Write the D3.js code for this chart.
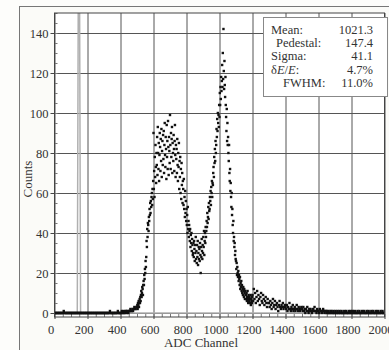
<!DOCTYPE html>
<html lang="en">
<head>
<meta charset="UTF-8">
<title>ADC spectrum</title>
<script src="https://d3js.org/d3.v7.min.js"></script>
<style>
  html, body { margin: 0; padding: 0; background: #fdfdfb; }
  svg { display: block; }
  svg text { font-family: "Liberation Serif", "Times New Roman", serif; }
</style>
</head>
<body>
<svg id="chart" width="389" height="350"></svg>
<script>
// ---- data ----
// baseline left of the peaks, channels 0..496, every 4
var leftStart = 0, leftStep = 4;
var leftCounts = [
  0,0,0,0,0,0,0,0,0,0,0,0,0,0,1,0,0,0,0,0,0,0,0,0,0,
  0,0,0,0,0,0,0,0,0,0,0,0,0,0,0,0,0,0,0,0,0,0,0,0,0,
  0,0,0,0,0,0,0,0,0,0,0,0,0,0,0,0,0,0,0,0,0,0,0,0,0,
  0,0,0,0,0,0,0,0,0,1,0,0,0,0,0,0,0,0,0,0,0,1,0,0,0,
  0,0,1,0,0,1,0,0,1,1,0,1,0,1,1,2,1,1,2,1,2,3,2,2,3
];
// peak region, channels 500..1198, every 2
var mainStart = 500, mainStep = 2;
var mainCounts = [
  3,4,2,5,4,6,3,5,7,5,
  8,6,9,11,8,10,13,12,9,14,
  16,14,19,17,22,20,26,23,28,36,
  33,42,38,45,44,41,48,46,52,49,
  55,50,56,53,58,60,54,62,57,66,
  90,62,71,58,78,68,84,73,65,80,
  74,88,69,93,80,72,85,66,79,90,
  83,71,87,76,92,68,81,86,74,89,
  77,91,70,84,95,79,73,88,82,67,
  94,78,86,72,96,83,69,88,81,75,
  99,84,72,90,78,87,93,70,85,80,
  76,89,82,71,86,94,79,68,84,77,
  82,70,87,74,66,80,73,85,62,76,
  68,78,60,72,57,75,64,70,55,66,
  62,54,67,52,58,48,61,50,56,46,
  52,44,49,40,53,42,46,38,44,41,
  36,42,33,39,35,40,31,37,34,29,
  30,35,28,36,32,26,34,30,38,27,
  31,25,34,28,36,24,30,33,27,32,
  26,35,29,20,33,28,37,31,27,34,
  30,38,33,41,29,36,40,35,43,38,
  41,46,43,50,45,48,53,47,55,51,
  52,58,56,61,54,63,60,66,58,65,
  64,70,73,68,78,75,82,76,86,80,
  84,92,88,97,91,100,95,99,93,104,
  98,110,104,113,107,118,111,116,124,113,
  130,117,142,121,112,126,114,108,118,104,
  98,91,102,86,95,84,88,80,76,84,
  70,66,72,61,65,58,53,60,49,52,
  44,40,46,36,38,33,35,29,31,27,
  26,22,25,19,23,20,18,21,16,19,
  17,14,18,12,15,13,16,11,14,10,
  12,9,13,11,8,12,10,7,11,9,
  9,7,10,6,8,11,7,5,9,8,
  6,8,5,7,9,4,7,6,5,8
];
// tail, channels 1200..2000, every 4
var tailStart = 1200, tailStep = 4;
var tailCounts = [
  9,6,12,7,10,5,8,11,6,9,7,4,8,10,6,5,9,7,4,6,8,5,3,7,5,
  5,3,6,4,2,5,7,3,4,6,2,4,5,3,1,4,6,3,2,4,3,5,2,3,4,
  3,2,4,1,3,2,5,2,1,3,2,4,1,2,3,1,2,4,2,1,3,2,1,2,3,
  2,1,3,1,2,0,2,1,3,1,0,2,1,2,1,0,1,2,1,3,1,1,0,2,1,
  1,0,2,1,1,0,1,2,1,0,1,1,0,1,0,1,0,0,1,0,1,0,0,1,0,
  0,1,0,0,1,0,0,1,0,0,1,0,0,0,1,0,0,1,0,0,0,1,0,0,1,
  0,0,1,0,0,1,0,0,0,1,0,0,1,0,0,0,1,0,0,1,0,0,0,1,0,
  0,1,0,0,0,1,0,0,1,0,0,0,1,0,0,1,0,0,0,1,0,0,1,0,0,
  0
];
// pedestal drawn as a grey line
var pedChannels = [0, 138, 148, 158, 2000];
var pedCounts   = [0, 0, 260, 0, 0];

var xTicks = [0, 200, 400, 600, 800, 1000, 1200, 1400, 1600, 1800, 2000];
var yTicks = [0, 20, 40, 60, 80, 100, 120, 140];

var statLabels = ["Mean:", "Pedestal:", "Sigma:", "\u03b4E/E:", "FWHM:"];
var statValues = ["1021.3", "147.4", "41.1", "4.7%", "11.0%"];

// ---- build point list ----
function series(start, step, arr) {
  return arr.map(function(v, i) { return { ch: start + i * step, n: v }; });
}
var points = series(leftStart, leftStep, leftCounts)
  .concat(series(mainStart, mainStep, mainCounts))
  .concat(series(tailStart, tailStep, tailCounts));

// ---- layout ----
var svg = d3.select("#chart");
var pL = 54.5, pR = 384.5, pT = 13, pB = 317;
var serif = "'Liberation Serif', 'Times New Roman', serif";

var x = d3.scaleLinear().domain([0, 2000]).range([pL, pR]);
var y = d3.scaleLinear().domain([-2, 150]).range([pB, pT]);

// outer frame
svg.append("rect")
  .attr("x", 19.5).attr("y", 6.5)
  .attr("width", 400).attr("height", 400)
  .attr("fill", "#fbfbf8").attr("stroke", "#777").attr("stroke-width", 1);

// plot background
svg.append("rect")
  .attr("x", pL).attr("y", pT)
  .attr("width", pR - pL).attr("height", pB - pT)
  .attr("fill", "#fff");

// grid lines
svg.append("g")
  .attr("transform", "translate(0," + pB + ")")
  .call(d3.axisBottom(x).tickValues(xTicks).tickSize(-(pB - pT)).tickFormat(""))
  .call(function(g) {
    g.select(".domain").remove();
    g.selectAll("line").attr("stroke", "#555").attr("stroke-width", 1);
  });
svg.append("g")
  .attr("transform", "translate(" + pL + ",0)")
  .call(d3.axisLeft(y).tickValues(yTicks).tickSize(-(pR - pL)).tickFormat(""))
  .call(function(g) {
    g.select(".domain").remove();
    g.selectAll("line").attr("stroke", "#555").attr("stroke-width", 1);
  });

// minor ticks (inside)
svg.append("g")
  .attr("transform", "translate(" + pL + ",0)")
  .call(d3.axisRight(y).tickValues(d3.range(0, 151, 5)).tickSize(3).tickFormat(""))
  .call(function(g) {
    g.select(".domain").remove();
    g.selectAll("line").attr("stroke", "#777");
  });
svg.append("g")
  .attr("transform", "translate(0," + pB + ")")
  .call(d3.axisTop(x).tickValues(d3.range(0, 2001, 50)).tickSize(3).tickFormat(""))
  .call(function(g) {
    g.select(".domain").remove();
    g.selectAll("line").attr("stroke", "#777");
  });

// y axis labels + outer ticks
svg.append("g")
  .attr("transform", "translate(" + pL + ",0)")
  .call(d3.axisLeft(y).tickValues(yTicks).tickSize(4).tickPadding(2).tickFormat(d3.format("d")))
  .call(function(g) {
    g.attr("font-family", null);
    g.select(".domain").remove();
    g.selectAll("line").attr("stroke", "#444");
    g.selectAll("text")
      .style("font-family", serif)
      .attr("font-size", 12.5).attr("fill", "#333");
  });

// x axis labels
svg.append("g")
  .attr("transform", "translate(0," + pB + ")")
  .call(d3.axisBottom(x).tickValues(xTicks).tickSize(2).tickPadding(6).tickFormat(d3.format("d")))
  .call(function(g) {
    g.attr("font-family", null);
    g.select(".domain").remove();
    g.selectAll("line").attr("stroke", "#444");
    g.selectAll("text")
      .style("font-family", serif)
      .attr("font-size", 12.5).attr("fill", "#333")
      .attr("dx", -4);
  });

// clip
svg.append("clipPath").attr("id", "plotclip")
  .append("rect").attr("x", pL).attr("y", pT)
  .attr("width", pR - pL).attr("height", pB - pT);

var plot = svg.append("g").attr("clip-path", "url(#plotclip)");

// pedestal line
var ped = pedChannels.map(function(c, i) { return [c, pedCounts[i]]; });
plot.append("path")
  .datum(ped)
  .attr("fill", "none")
  .attr("stroke", "#b0b0b0")
  .attr("stroke-width", 1.5)
  .attr("d", d3.line().x(function(d) { return x(d[0]); }).y(function(d) { return y(d[1]); }));

// points
var ms = 2.4;
plot.selectAll("rect.pt")
  .data(points)
  .enter().append("rect")
  .attr("class", "pt")
  .attr("x", function(d) { return x(d.ch) - ms / 2; })
  .attr("y", function(d) { return y(d.n) - ms / 2; })
  .attr("width", ms).attr("height", ms)
  .attr("fill", "#111");

// plot border
svg.append("rect")
  .attr("x", pL).attr("y", pT)
  .attr("width", pR - pL).attr("height", pB - pT)
  .attr("fill", "none").attr("stroke", "#444").attr("stroke-width", 1);

// axis titles
svg.append("text")
  .attr("x", 201).attr("y", 347)
  .attr("text-anchor", "middle")
  .attr("font-size", 13).attr("fill", "#333")
  .text("ADC Channel");

svg.append("text")
  .attr("transform", "translate(32,179) rotate(-90)")
  .attr("text-anchor", "middle")
  .attr("font-size", 13).attr("fill", "#333")
  .text("Counts");

// stats box
var box = svg.append("g");
box.append("rect")
  .attr("x", 263.5).attr("y", 17.5)
  .attr("width", 124).attr("height", 79)
  .attr("fill", "#fff").attr("stroke", "#888").attr("stroke-width", 1);

var labelX = [271, 276, 271, 271, 283];
statLabels.forEach(function(s, i) {
  var t = box.append("text")
    .attr("x", labelX[i]).attr("y", 34 + i * 13.2)
    .attr("font-size", 12.5).attr("fill", "#333");
  if (s.indexOf("E/E") >= 0) {
    t.append("tspan").text("\u03b4");
    t.append("tspan").attr("font-style", "italic").text("E");
    t.append("tspan").text("/");
    t.append("tspan").attr("font-style", "italic").text("E");
    t.append("tspan").text(":");
  } else {
    t.text(s);
  }
  box.append("text")
    .attr("x", 373).attr("y", 34 + i * 13.2)
    .attr("text-anchor", "end")
    .attr("font-size", 12.5).attr("fill", "#333")
    .text(statValues[i]);
});
</script>
</body>
</html>
